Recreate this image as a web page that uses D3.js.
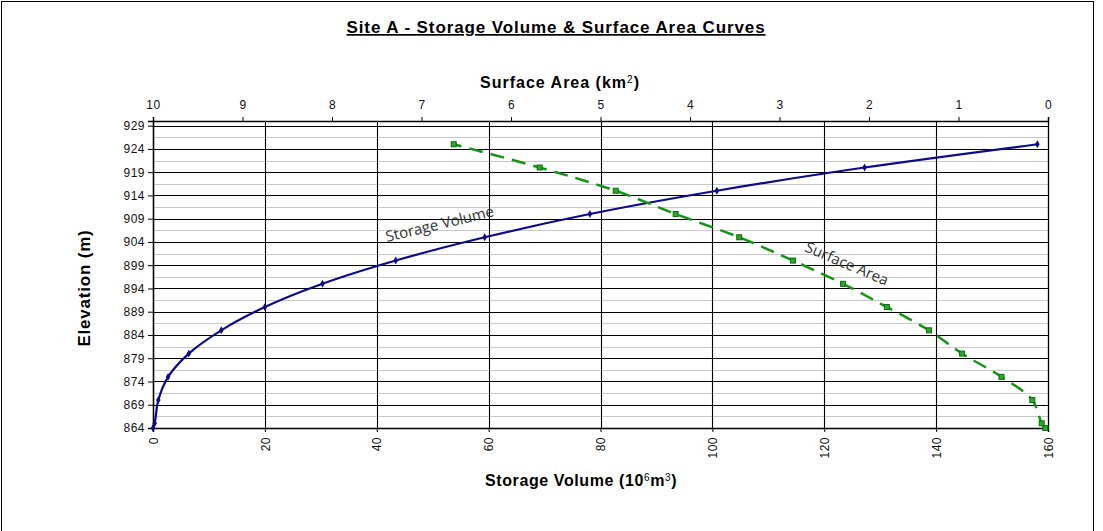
<!DOCTYPE html>
<html>
<head>
<meta charset="utf-8">
<script src="https://cdn.jsdelivr.net/npm/d3@7"></script>
<style>
    body { margin: 0; background: #fff; }
    svg { display: block; }
    .tick text { font-family: Arial, "Liberation Sans", sans-serif; font-size: 12px; fill: #111; letter-spacing: 0.5px; }
</style>
</head>
<body>
<div id="chart"></div>
<script>
// elevation of each survey level (m)
const elevations = [864, 865, 870, 875, 880, 885, 890, 895, 900, 905, 910, 915, 920, 925];
// storage volume (10^6 m3) at each elevation
const storageVolume = [0, 0.3, 0.95, 2.7, 6.4, 12.2, 20.0, 30.3, 43.4, 59.3, 78.1, 100.8, 127.2, 158.1];
// surface area (km2) at each elevation
const surfaceArea = [0.03, 0.07, 0.175, 0.52, 0.96, 1.33, 1.80, 2.29, 2.85, 3.45, 4.16, 4.83, 5.68, 6.64];

const elevationTicks = [864, 869, 874, 879, 884, 889, 894, 899, 904, 909, 914, 919, 924, 929];
const volumeTicks = [0, 20, 40, 60, 80, 100, 120, 140, 160];
const areaTicks = [10, 9, 8, 7, 6, 5, 4, 3, 2, 1, 0];

const width = 1103, height = 531;
const plot = { left: 153, right: 1048, top: 121, bottom: 428 };

const svg = d3.select("#chart").append("svg")
    .attr("width", width)
    .attr("height", height);

// chart frame
svg.append("rect")
    .attr("x", 1.5).attr("y", 1.5)
    .attr("width", 1092).attr("height", 560)
    .attr("fill", "none").attr("stroke", "#000").attr("stroke-width", 1);

const x = d3.scaleLinear().domain([0, 160]).range([plot.left, plot.right]);
const xTop = d3.scaleLinear().domain([10, 0]).range([plot.left, plot.right]);
const y = d3.scaleLinear().domain([864, 930]).range([plot.bottom, plot.top]);

// minor horizontal gridlines
const minor = elevationTicks.slice(0, -1).map((d) => d + 2.5);
svg.append("g").selectAll("line")
    .data(minor).enter().append("line")
    .attr("x1", plot.left).attr("x2", plot.right)
    .attr("y1", (d) => Math.round(y(d)) + 0.5).attr("y2", (d) => Math.round(y(d)) + 0.5)
    .attr("stroke", "#c8c8c8").attr("stroke-width", 1.2);

// major gridlines
svg.append("g").selectAll("line")
    .data(elevationTicks).enter().append("line")
    .attr("x1", plot.left).attr("x2", plot.right)
    .attr("y1", (d) => Math.round(y(d)) + 0.5).attr("y2", (d) => Math.round(y(d)) + 0.5)
    .attr("stroke", "#000").attr("stroke-width", 1.1);

svg.append("g").selectAll("line")
    .data(volumeTicks).enter().append("line")
    .attr("x1", (d) => Math.round(x(d)) + 0.5).attr("x2", (d) => Math.round(x(d)) + 0.5)
    .attr("y1", plot.top).attr("y2", plot.bottom)
    .attr("stroke", "#000").attr("stroke-width", 1.1);

// Axes
const axLeft = svg.append("g")
    .attr("transform", `translate(${plot.left},0)`)
    .call(d3.axisLeft(y).tickValues(elevationTicks).tickSize(5).tickPadding(3).tickFormat(d3.format("d")));

const axTop = svg.append("g")
    .attr("transform", `translate(0,${plot.top})`)
    .call(d3.axisTop(xTop).tickValues(areaTicks).tickSize(4).tickPadding(8).tickFormat(d3.format("d")));

const axBottom = svg.append("g")
    .attr("transform", `translate(0,${plot.bottom})`)
    .call(d3.axisBottom(x).tickValues(volumeTicks).tickSize(4).tickFormat(d3.format("d")));

axBottom.selectAll(".tick text")
    .attr("transform", "rotate(-90)")
    .attr("text-anchor", "end")
    .attr("x", -9)
    .attr("y", 0)
    .attr("dy", "0.35em");

[axLeft, axTop, axBottom].forEach((g) => {
    g.select(".domain").attr("stroke", "#000").attr("stroke-width", 1.5);
    g.selectAll(".tick line").attr("stroke", "#000");
});

// right border of plot
svg.append("line")
    .attr("x1", plot.right + 0.5).attr("x2", plot.right + 0.5)
    .attr("y1", plot.top).attr("y2", plot.bottom)
    .attr("stroke", "#000").attr("stroke-width", 1.2);

// Storage volume curve
const volPts = elevations.map((e, i) => [x(storageVolume[i]), y(e)]);
svg.append("path")
    .attr("d", d3.line().curve(d3.curveCatmullRom.alpha(0.5))(volPts))
    .attr("fill", "none")
    .attr("stroke", "#0c0c8a")
    .attr("stroke-width", 2.2);

svg.append("g").selectAll("path")
    .data(volPts).enter().append("path")
    .attr("transform", (d) => `translate(${d[0]},${d[1]})`)
    .attr("d", d3.symbol(d3.symbolDiamond, 18))
    .attr("fill", "#0c0c8a");

// Surface area curve
const areaPts = elevations.map((e, i) => [xTop(surfaceArea[i]), y(e)]);
svg.append("path")
    .attr("d", d3.line().curve(d3.curveCatmullRom.alpha(0.5))(areaPts))
    .attr("fill", "none")
    .attr("stroke", "#139413")
    .attr("stroke-width", 2.5)
    .attr("stroke-dasharray", "14,8");

svg.append("g").selectAll("rect")
    .data(areaPts).enter().append("rect")
    .attr("x", (d) => d[0] - 2.5).attr("y", (d) => d[1] - 2.5)
    .attr("width", 5).attr("height", 5)
    .attr("fill", "#2ea52e")
    .attr("stroke", "#0a6e0a").attr("stroke-width", 1);

// curve labels
svg.append("text")
    .attr("transform", "translate(387,242) rotate(-13.5)")
    .style("font-family", "'Open Sans', sans-serif")
    .style("font-size", "15px")
    .attr("fill", "#333")
    .text("Storage Volume");

svg.append("text")
    .attr("transform", "translate(804,251) rotate(23)")
    .style("font-family", "'Open Sans', sans-serif")
    .style("font-size", "15px")
    .attr("fill", "#333")
    .text("Surface Area");

// titles
const font = "Arial, 'Liberation Sans', sans-serif";
svg.append("text")
    .attr("x", 556).attr("y", 33)
    .attr("text-anchor", "middle")
    .style("font-family", font).style("font-size", "17px").style("font-weight", "bold")
    .style("letter-spacing", "0.9px")
    .style("text-decoration", "underline")
    .text("Site A - Storage Volume & Surface Area Curves");

const topTitle = svg.append("text")
    .attr("x", 560).attr("y", 88)
    .attr("text-anchor", "middle")
    .style("font-family", font).style("font-size", "16px").style("font-weight", "bold")
    .style("letter-spacing", "1px");
topTitle.append("tspan").text("Surface Area (km");
topTitle.append("tspan").attr("dy", -5).style("font-size", "10px").style("font-weight", "normal").text("2");
topTitle.append("tspan").attr("dy", 5).text(")");

const botTitle = svg.append("text")
    .attr("x", 485).attr("y", 486)
    .style("font-family", font).style("font-size", "16px").style("font-weight", "bold")
    .style("letter-spacing", "0.6px");
botTitle.append("tspan").text("Storage Volume  (10");
botTitle.append("tspan").attr("dy", -5).style("font-size", "10px").style("font-weight", "normal").text("6");
botTitle.append("tspan").attr("dy", 5).text("m");
botTitle.append("tspan").attr("dy", -5).style("font-size", "10px").style("font-weight", "normal").text("3");
botTitle.append("tspan").attr("dy", 5).text(")");

svg.append("text")
    .attr("transform", "translate(90,288) rotate(-90)")
    .attr("text-anchor", "middle")
    .style("font-family", font).style("font-size", "17px").style("font-weight", "bold")
    .style("letter-spacing", "0.8px")
    .text("Elevation (m)");
</script>
</body>
</html>
